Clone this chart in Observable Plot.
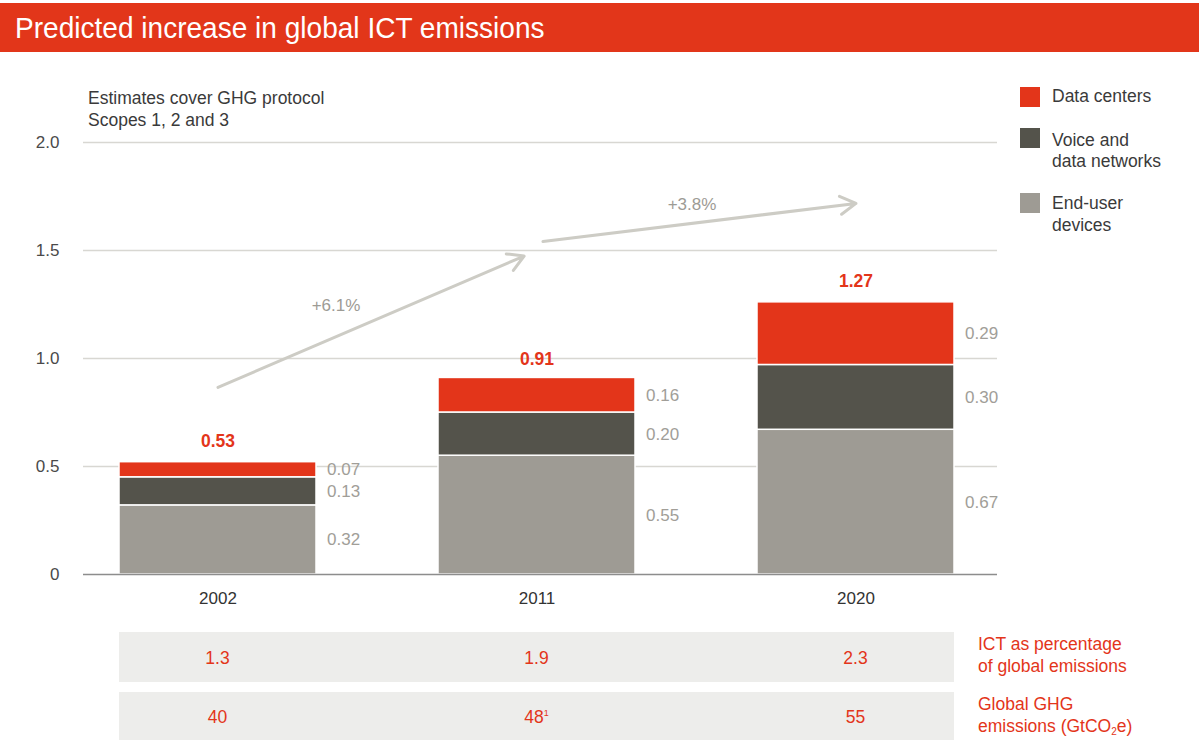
<!DOCTYPE html>
<html>
<head>
<meta charset="utf-8">
<script src="https://cdn.jsdelivr.net/npm/d3@7"></script>
<script src="https://cdn.jsdelivr.net/npm/@observablehq/plot@0.6"></script>
<style>
  html, body { margin: 0; padding: 0; background: #fff; }
  body { width: 1199px; height: 742px; position: relative; overflow: hidden;
         font-family: "Liberation Sans", Arial, sans-serif; }
  #title { position: absolute; left: 0; top: 3px; width: 1199px; height: 49px; background: #e2361a;
           color: #fff; font-family: "Liberation Sans", sans-serif;
           font-size: 30px; line-height: 49px; padding-left: 15px; box-sizing: border-box; white-space: nowrap; }
  #title span { display: inline-block; transform: scaleX(0.935); transform-origin: left center; }
  #subtitle { position: absolute; left: 88px; top: 87px; font-size: 17.5px; line-height: 22px; color: #3a3a3a; }
  #chart { position: absolute; left: 0; top: 60px; }
  .sw { position: absolute; width: 20px; height: 20px; }
  .lg { position: absolute; left: 1052px; font-size: 17.5px; line-height: 21.5px; color: #3a3a3a; }
  .row { position: absolute; background: #ededeb; }
  .val { position: absolute; transform: translate(-50%, -50%); color: #e3351a; font-size: 17.5px; white-space: nowrap; }
  .val sup { font-size: 9px; vertical-align: 7px; }
  .rl { position: absolute; left: 978px; color: #e3351a; font-size: 17.5px; line-height: 21.5px; }
  .rl sub { font-size: 10px; vertical-align: -3px; }
</style>
</head>
<body>
<div id="title"><span>Predicted increase in global ICT emissions</span></div>
<div id="subtitle">Estimates cover GHG protocol<br>Scopes 1, 2 and 3</div>
<div id="chart"></div>
<div id="legend"></div>
<div id="table"></div>
<script>
// ---- data ----
const years = ["2002", "2011", "2020"];
const categories = ["End-user devices", "Voice and data networks", "Data centers"];
const endUserDevices = [0.32, 0.55, 0.67];
const voiceDataNetworks = [0.13, 0.20, 0.30];
const dataCenters = [0.07, 0.16, 0.29];
const totals = [0.53, 0.91, 1.27];
const ictShare = ["1.3", "1.9", "2.3"];
const globalGHG = ["40", "48", "55"];
const globalGHGNote = ["", "1", ""];
const yTicks = [0, 0.5, 1.0, 1.5, 2.0];
const growthFrom = ["2002", "2011"];
const growthTo = ["2011", "2020"];
const growthStart = [0.866, 1.538];
const growthEnd = [1.5, 1.718];
const growthLabels = ["+6.1%", "+3.8%"];
const growthLabelY = [1.245, 1.713];
const legendLabels = [["Data centers"], ["Voice and", "data networks"], ["End-user", "devices"]];
const tableLabels = [["ICT as percentage", "of global emissions"], ["Global GHG", "emissions (GtCO<sub>2</sub>e)"]];

// ---- style ----
const colors = ["#9e9b94", "#54534b", "#e3351a"];
const red = "#e3351a";

const seriesValues = [endUserDevices, voiceDataNetworks, dataCenters];
const stacked = [];
years.forEach((yr, i) => categories.forEach((c, k) => stacked.push({year: yr, category: c, value: seriesValues[k][i]})));
const totalsData = years.map((yr, i) => ({year: yr, total: totals[i]}));
const arrows = growthFrom.map((f, i) => ({from: f, to: growthTo[i], y1: growthStart[i], y2: growthEnd[i], label: growthLabels[i], ly: growthLabelY[i]}));

const plot = Plot.plot({
  width: 1199, height: 560,
  marginTop: 82, marginBottom: 46, marginLeft: 83, marginRight: 202,
  style: {fontFamily: '"Liberation Sans", Arial, sans-serif', fontSize: "17px", background: "transparent", color: "#3a3a3a"},
  x: {domain: years, paddingInner: 0.3834, paddingOuter: 0.122, align: 0.449, axis: null, label: null},
  y: {domain: [0, 2], axis: null, label: null},
  color: {domain: categories, range: colors},
  marks: [
    Plot.gridY(yTicks.filter(d => d > 0), {stroke: "#d8d7d2", strokeOpacity: 1, strokeWidth: 1.5}),
    Plot.axisY(yTicks, {tickSize: 0, tickPadding: 24, fontSize: 17, fill: "#4a4a4a",
      tickFormat: d => d === 0 ? "0" : d.toFixed(1), label: null}),
    Plot.axisX(years, {tickSize: 0, tickPadding: 17, fontSize: 17, fill: "#333", label: null}),
    Plot.barY(stacked, Plot.stackY({x: "year", y: "value", fill: "category", order: categories,
      stroke: "#fff", strokeWidth: 1.5})),
    Plot.ruleY([0], {stroke: "#8d8d8d", strokeWidth: 1.5}),
    Plot.text(stacked, Plot.stackY({x: "year", y: "value", z: "category", order: categories,
      text: d => d.value.toFixed(2), dx: 109, textAnchor: "start", fill: "#a19e98", fontSize: 17})),
    Plot.text(totalsData, {x: "year", y: "total", text: d => d.total.toFixed(2), dy: -19,
      fill: red, fontWeight: "bold", fontSize: 17.5}),
    Plot.arrow(arrows.slice(0, 1), {x1: "from", y1: "y1", x2: "to", y2: "y2", stroke: "#cdccc5",
      strokeWidth: 3, insetEnd: 14, headLength: 9}),
    Plot.arrow(arrows.slice(1), {x1: "from", y1: "y1", x2: "to", y2: "y2", stroke: "#cdccc5",
      strokeWidth: 3, insetStart: 6, headLength: 9}),
    Plot.text(arrows.slice(0, 1), {x: "from", y: "ly", text: "label", dx: 118, fill: "#9d9b95", fontSize: 17}),
    Plot.text(arrows.slice(1), {x: "from", y: "ly", text: "label", dx: 155, fill: "#9d9b95", fontSize: 17})
  ]
});
document.getElementById("chart").appendChild(plot);

// ---- legend ----
const legend = document.getElementById("legend");
const legendColors = [colors[2], colors[1], colors[0]];
const swTops = [87, 128, 193];
const lgTops = [86, 129.5, 193];
legendLabels.forEach((lines, i) => {
  const s = document.createElement("div");
  s.className = "sw"; s.style.left = "1020px"; s.style.top = swTops[i] + "px"; s.style.background = legendColors[i];
  legend.appendChild(s);
  const t = document.createElement("div");
  t.className = "lg"; t.style.top = lgTops[i] + "px"; t.innerHTML = lines.join("<br>");
  legend.appendChild(t);
});

// ---- table under chart ----
const sx = plot.scale("x");
const table = document.getElementById("table");
const left = sx.apply(years[0]);
const right = sx.apply(years[years.length - 1]) + sx.bandwidth;
const rowTops = [632, 692], rowH = [50, 48];
const rowVals = [ictShare, globalGHG];
rowTops.forEach((top, r) => {
  const row = document.createElement("div");
  row.className = "row";
  row.style.left = left + "px"; row.style.width = (right - left) + "px";
  row.style.top = top + "px"; row.style.height = rowH[r] + "px";
  table.appendChild(row);
  years.forEach((yr, i) => {
    const v = document.createElement("div");
    v.className = "val";
    v.style.left = (sx.apply(yr) + sx.bandwidth / 2) + "px";
    v.style.top = (top + rowH[r] / 2 + 1) + "px";
    v.innerHTML = rowVals[r][i] + (r === 1 && globalGHGNote[i] ? "<sup>" + globalGHGNote[i] + "</sup>" : "");
    table.appendChild(v);
  });
  const l = document.createElement("div");
  l.className = "rl"; l.style.top = (top + 2) + "px"; l.innerHTML = tableLabels[r].join("<br>");
  table.appendChild(l);
});
</script>
</body>
</html>
